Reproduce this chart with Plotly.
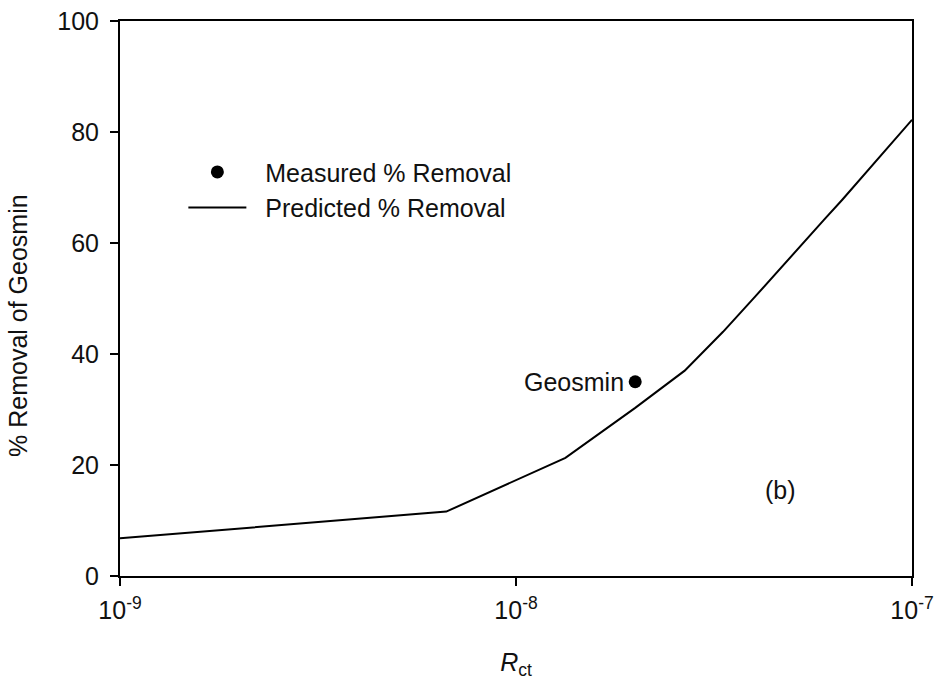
import plotly.graph_objects as go

# Predicted removal curve (Rct vs % removal)
rct_pred = [1e-9, 6.667e-9, 1.333e-8, 2.0e-8, 2.667e-8, 3.333e-8, 4.0e-8,
            4.667e-8, 5.333e-8, 6.0e-8, 6.667e-8, 7.333e-8, 8.0e-8,
            8.667e-8, 9.333e-8, 1e-7]
removal_pred = [6.8, 11.6, 21.3, 30.3, 37.0, 44.0, 50.2,
                55.6, 60.2, 64.2, 67.8, 71.2, 74.3,
                77.0, 79.7, 82.2]

# Measured removal
rct_meas = [2.0e-8]
removal_meas = [35.0]
meas_label = ["Geosmin"]

x_tickvals = [1e-9, 1e-8, 1e-7]
x_ticktext = ["10<sup>-9</sup>", "10<sup>-8</sup>", "10<sup>-7</sup>"]
y_tickvals = [0, 20, 40, 60, 80, 100]

FONT = "Liberation Sans, Arial, sans-serif"
INK = "#111111"
FS = 25

fig = go.Figure()

fig.add_trace(go.Scatter(
    x=rct_meas, y=removal_meas, mode="markers",
    marker=dict(color="black", size=13),
    name="\u00a0\u00a0Measured % Removal",
))
fig.add_trace(go.Scatter(
    x=rct_pred, y=removal_pred, mode="lines",
    line=dict(color="black", width=2),
    name="\u00a0\u00a0Predicted % Removal",
))

fig.add_annotation(x=-7.699 - 0.022, y=removal_meas[0], xref="x", yref="y",
                   text=meas_label[0], showarrow=False, xanchor="right",
                   font=dict(size=FS, color=INK, family=FONT))
fig.add_annotation(x=-7.331, y=15.5, xref="x", yref="y", text="(b)",
                   showarrow=False, font=dict(size=FS, color=INK, family=FONT))
fig.add_annotation(x=-0.129, y=0.452, xref="paper", yref="paper",
                   xanchor="center", yanchor="middle",
                   text="% Removal of Geosmin", textangle=-90, showarrow=False,
                   font=dict(size=FS, color=INK, family=FONT))

axis_common = dict(
    showline=True, linecolor="black", linewidth=2, mirror=True,
    showgrid=False, zeroline=False, ticks="outside", ticklen=8,
    tickwidth=2, tickcolor="black", automargin=False,
    tickfont=dict(size=FS, color=INK, family=FONT),
)

fig.update_xaxes(type="log", range=[-9, -7], tickvals=x_tickvals,
                 ticktext=x_ticktext, ticklabelstandoff=3,
                 title=dict(text="<i>R</i><sub>ct</sub>", standoff=30,
                            font=dict(size=FS, color=INK, family=FONT)),
                 **axis_common)
fig.update_yaxes(range=[0, 100], tickvals=y_tickvals, ticklabelstandoff=6,
                 **axis_common)

fig.update_layout(
    width=939, height=683,
    margin=dict(l=120, r=27, t=21, b=107),
    plot_bgcolor="white", paper_bgcolor="white",
    font=dict(family=FONT, color=INK),
    legend=dict(x=0.08, y=0.769, xanchor="left", yanchor="top",
                bgcolor="rgba(0,0,0,0)", itemwidth=58, tracegroupgap=0,
                font=dict(size=FS, color=INK, family=FONT)),
)

fig.write_html("out.html")
